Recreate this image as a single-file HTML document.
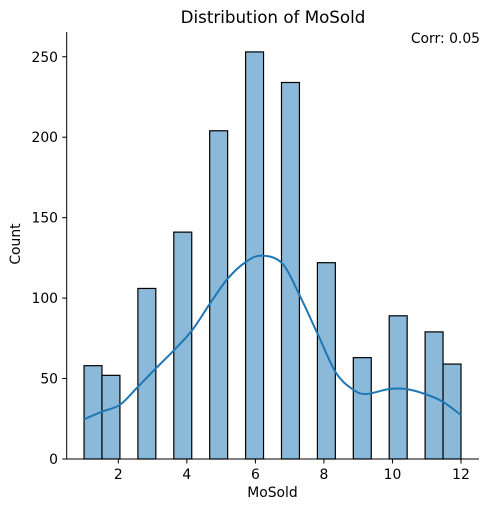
<!DOCTYPE html>
<html><head><meta charset="utf-8"><style>
body{margin:0;background:#fff;}
svg{display:block;font-family:"DejaVu Sans","Liberation Sans",sans-serif;}
</style></head><body>
<svg id="chart" width="489" height="512" xmlns="http://www.w3.org/2000/svg"></svg>
<script>
const binEdges = [1,1.5238,2.0476,2.5714,3.0952,3.619,4.1429,4.6667,5.1905,5.7143,6.2381,6.7619,7.2857,7.8095,8.3333,8.8571,9.381,9.9048,10.4286,10.9524,11.4762,12];
const counts = [58,52,0,106,0,141,0,204,0,253,0,234,0,122,0,63,0,89,0,79,59];
const kdeX = [1.0,1.52,2.04,2.53,3.1,3.63,4.16,4.68,5.2,5.73,6.18,6.78,7.31,7.83,8.36,8.87,9.24,9.9,10.4,10.95,11.47,12.0];
const kdeY = [24.7,29.4,33.6,43.9,56.4,67.7,80.2,96.8,112.3,122.6,126.4,121.6,100.9,77.1,53.3,42.9,40.4,43.5,43.5,40.4,35.6,27.3];
const xTicks = [2,4,6,8,10,12];
const yTicks = [0,50,100,150,200,250];
const NS="http://www.w3.org/2000/svg";
const svg=document.getElementById('chart');
const X=v=>118.3+(v-2)*34.27;
const Y=v=>459-v*1.609;
function mk(t,a,p){const e=document.createElementNS(NS,t);for(const k in a)e.setAttribute(k,a[k]);(p||svg).appendChild(e);return e;}
const bars=mk('g',{});


counts.forEach((c,i)=>{if(!c)return;
 const r=mk('rect',{x:X(binEdges[i]),y:Y(c),width:X(binEdges[i+1])-X(binEdges[i]),height:Y(0)-Y(c),fill:'#8ab9da',stroke:'#000','stroke-width':1.2},bars);
 
 
});
const pts=kdeX.map((x,i)=>[X(x),Y(kdeY[i])]);
let d='M'+pts[0][0]+','+pts[0][1];
for(let i=0;i<pts.length-1;i++){
 const p0=pts[Math.max(0,i-1)],p1=pts[i],p2=pts[i+1],p3=pts[Math.min(pts.length-1,i+2)];
 const c1=[p1[0]+(p2[0]-p0[0])/6,p1[1]+(p2[1]-p0[1])/6],c2=[p2[0]-(p3[0]-p1[0])/6,p2[1]-(p3[1]-p1[1])/6];
 d+=' C'+c1+' '+c2+' '+p2;
}
const kde=mk('path',{d:d,fill:'none',stroke:'#1f77b4','stroke-width':2,'stroke-linejoin':'round'});


const ax=mk('g',{});


mk('line',{x1:66.7,y1:32,x2:66.7,y2:459.5,stroke:'#000','stroke-width':1},ax);
mk('line',{x1:66.2,y1:459,x2:479,y2:459,stroke:'#000','stroke-width':1},ax);
xTicks.forEach(t=>{mk('line',{x1:X(t),y1:459,x2:X(t),y2:463.5,stroke:'#000'},ax);
 const tx=mk('text',{x:X(t),y:479,'text-anchor':'middle','font-size':13.9},ax);tx.textContent=t;
 
 });
yTicks.forEach(t=>{mk('line',{x1:62.2,y1:Y(t),x2:66.7,y2:Y(t),stroke:'#000'},ax);
 const tx=mk('text',{x:58,y:Y(t)+5,'text-anchor':'end','font-size':13.9},ax);tx.textContent=t;
 
 });
</script>
<div style="position:absolute;left:0;top:0;width:489px;height:512px;pointer-events:none;font-family:'DejaVu Sans','Liberation Sans',sans-serif;">
<div style="position:absolute;left:0;width:546px;top:7px;text-align:center;font-size:16.7px;">Distribution of MoSold</div>
<div style="position:absolute;right:9px;top:31px;font-size:13.9px;">Corr: 0.05</div>
<div style="position:absolute;left:66px;width:413px;top:485px;text-align:center;font-size:13.9px;">MoSold</div>
<div style="position:absolute;left:-14px;top:236px;width:60px;text-align:center;font-size:13.9px;transform:rotate(-90deg);">Count</div>
</div>
</body></html>
